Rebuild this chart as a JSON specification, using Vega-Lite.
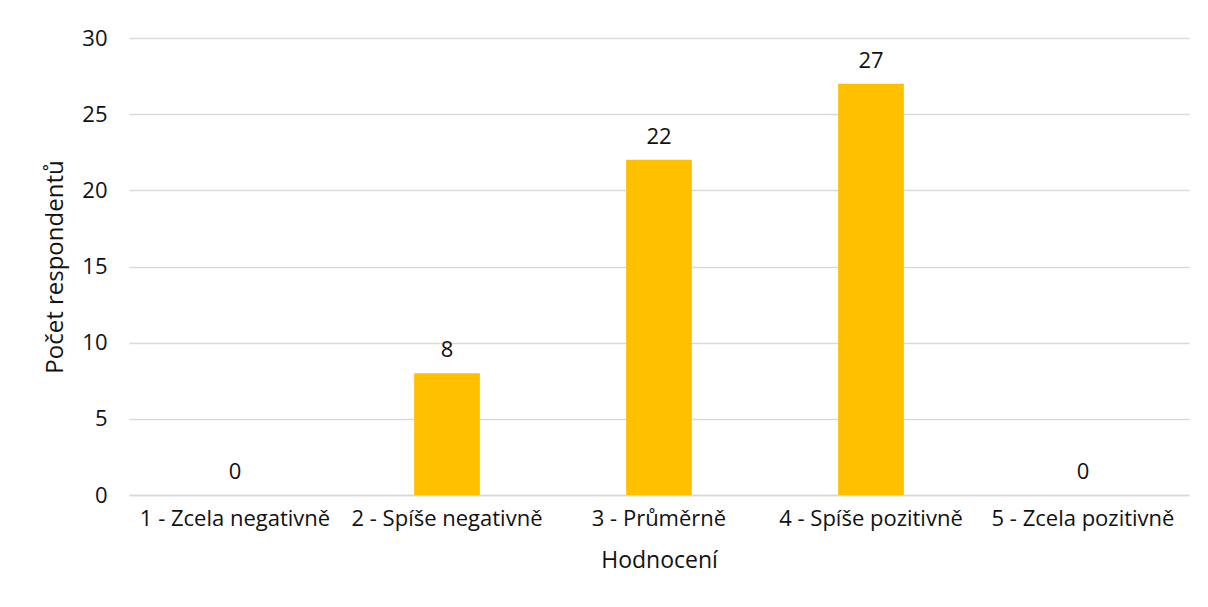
{
  "$schema": "https://vega.github.io/schema/vega-lite/v6.json",
  "width": 1060,
  "height": 457,
  "autosize": {"type": "none"},
  "padding": {"left": 129, "top": 38, "right": 19, "bottom": 112},
  "background": "white",
  "config": {
    "view": {"stroke": null},
    "font": "Open Sans",
    "axis": {"labelFont": "Open Sans", "titleFont": "Open Sans", "labelColor": "#111", "titleColor": "#111", "labelFontSize": 22, "titleFontSize": 23, "titleFontWeight": "normal"}
  },
  "data": {
    "values": [
      {"cat": "1 - Zcela negativně", "n": 0},
      {"cat": "2 - Spíše negativně", "n": 8},
      {"cat": "3 - Průměrně", "n": 22},
      {"cat": "4 - Spíše pozitivně", "n": 27},
      {"cat": "5 - Zcela pozitivně", "n": 0}
    ]
  },
  "encoding": {
    "x": {"field": "cat", "type": "nominal", "sort": null,
      "scale": {"paddingInner": 0.69, "paddingOuter": 0.345},
      "axis": {"title": "Hodnocení", "labelAngle": 0, "labelLimit": 400, "labelOverlap": false, "ticks": false, "domainColor": "#d9d9d9", "domainWidth": 1.5, "labelPadding": 13, "titlePadding": 20}},
    "y": {"field": "n", "type": "quantitative",
      "scale": {"domain": [0, 30]},
      "axis": {"title": "Počet respondentů", "titleFontSize": 24, "values": [0, 5, 10, 15, 20, 25, 30], "domain": false, "ticks": false, "gridColor": "#d9d9d9", "gridWidth": 1.5, "labelPadding": 22, "titlePadding": 14}}
  },
  "layer": [
    {"mark": {"type": "bar", "color": "#FFC000"}},
    {"mark": {"type": "text", "baseline": "bottom", "dy": -11, "fontSize": 22, "font": "Open Sans", "color": "#111"}, "encoding": {"text": {"field": "n", "type": "quantitative"}}}
  ]
}
